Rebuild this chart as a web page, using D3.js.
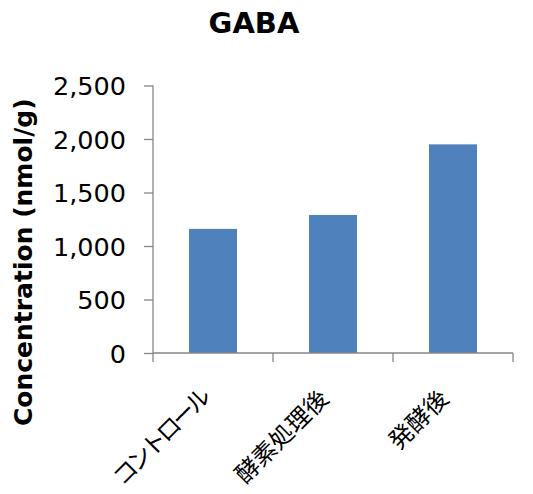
<!DOCTYPE html>
<html>
<head>
<meta charset="utf-8">
<script src="https://cdn.jsdelivr.net/npm/d3@7"></script>
<style>
  html, body { margin: 0; padding: 0; background: #fff; }
  svg { display: block; }
</style>
</head>
<body>
<svg id="chart" width="533" height="494"></svg>
<script>
// GABA concentration per treatment
const categories = ["コントロール", "酵素処理後", "発酵後"];
const values = [1160, 1290, 1950];
const yTicks = [0, 500, 1000, 1500, 2000, 2500];
const chartTitle = "GABA";
const yTitle = "Concentration (nmol/g)";

const svg = d3.select("#chart");
const plot = { left: 153, right: 513, top: 85.5, bottom: 353 };
const axisColor = "#868686";
const latinFont = "'DejaVu Sans', Verdana, sans-serif";
const cjkFont = "'Noto Sans CJK JP', sans-serif";

const x = d3.scaleBand()
  .domain(categories)
  .range([plot.left, plot.right])
  .paddingInner(0.6)
  .paddingOuter(0.3);

const y = d3.scaleLinear()
  .domain([0, 2500])
  .range([plot.bottom, plot.top]);

// bars
svg.append("g")
  .selectAll("rect")
  .data(categories)
  .join("rect")
  .attr("x", d => x(d))
  .attr("width", x.bandwidth())
  .attr("y", (d, i) => y(values[i]))
  .attr("height", (d, i) => y(0) - y(values[i]))
  .attr("fill", "#4F81BD");

// y axis
const yAxis = svg.append("g")
  .attr("transform", `translate(${plot.left},0)`)
  .call(d3.axisLeft(y).tickValues(yTicks).tickSize(9).tickPadding(18)
    .tickFormat(d3.format(",")));
yAxis.select(".domain").attr("stroke", axisColor).attr("stroke-width", 1.3)
  .attr("d", `M0,${plot.top}V${plot.bottom}`);
yAxis.selectAll(".tick line").attr("stroke", axisColor).attr("stroke-width", 1.3);
yAxis.selectAll(".tick text")
  .attr("font-family", latinFont)
  .attr("font-size", 25.5)
  .attr("fill", "#000")
  .attr("dy", "0.36em");

// x axis line and category boundary ticks
const xAxis = svg.append("g");
xAxis.append("line")
  .attr("x1", plot.left).attr("x2", plot.right)
  .attr("y1", plot.bottom).attr("y2", plot.bottom)
  .attr("stroke", axisColor).attr("stroke-width", 1.3);
const boundaries = d3.range(categories.length + 1).map(i => plot.left + i * x.step());
xAxis.selectAll("line.tick")
  .data(boundaries)
  .join("line")
  .attr("class", "tick")
  .attr("x1", d => d).attr("x2", d => d)
  .attr("y1", plot.bottom).attr("y2", plot.bottom + 9)
  .attr("stroke", axisColor).attr("stroke-width", 1.3);

// rotated category labels; katakana set tighter, as in a proportional face
const isKana = s => /^[\u30A0-\u30FF]+$/.test(s);
xAxis.selectAll("text")
  .data(categories)
  .join("text")
  .attr("transform", d => `translate(${x(d) + x.bandwidth() / 2 - 3},${plot.bottom + 47}) rotate(-45)`)
  .attr("text-anchor", "end")
  .attr("font-family", cjkFont)
  .attr("font-size", 24)
  .style("letter-spacing", d => isKana(d) ? "-3.5px" : "0px")
  .attr("fill", "#000")
  .text(d => d);

// chart title
svg.append("text")
  .attr("x", 254)
  .attr("y", 33)
  .attr("text-anchor", "middle")
  .attr("font-family", latinFont)
  .attr("font-weight", "bold")
  .attr("font-size", 29)
  .attr("fill", "#000")
  .text(chartTitle);

// y axis title
svg.append("text")
  .attr("transform", `translate(32,${(plot.top + plot.bottom) / 2 + 43}) rotate(-90)`)
  .attr("text-anchor", "middle")
  .attr("font-family", latinFont)
  .attr("font-weight", "bold")
  .attr("font-size", 25)
  .attr("fill", "#000")
  .text(yTitle);
</script>
</body>
</html>
